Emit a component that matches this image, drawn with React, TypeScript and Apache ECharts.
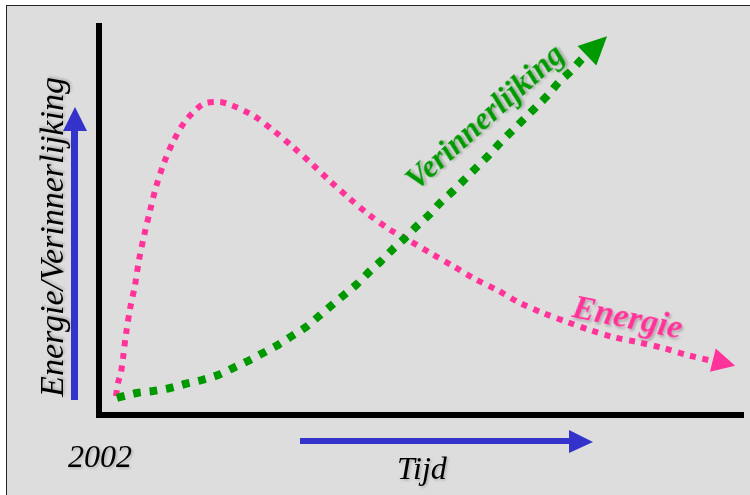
import React, { useEffect, useRef } from "react";
import * as echarts from "echarts";

// Energie curve (x: time 0-100, y: level 0-100)
const energieX = [2.65, 2.96, 3.43, 3.74, 4.21, 4.83, 5.61, 6.23, 7.01, 7.94, 8.88, 10.12, 11.68, 13.71, 16.67, 18.69, 20.56, 24.14, 27.26, 30.22, 33.18, 35.98, 38.94, 41.9, 45.17, 48.44, 51.87, 55.14, 58.57, 61.99, 65.58, 69.16, 72.9, 76.48, 80.06, 83.8, 87.85, 91.59, 95.64];
const energieY = [4.88, 8.23, 11.05, 14.65, 20.82, 27.25, 33.42, 39.85, 46.02, 52.44, 58.61, 64.78, 70.69, 76.09, 80.21, 80.46, 79.69, 76.86, 73.01, 68.89, 64.52, 60.15, 55.78, 51.67, 47.81, 44.73, 41.39, 38.3, 34.96, 32.13, 28.79, 26.22, 23.91, 21.85, 20.05, 18.77, 17.22, 15.42, 13.88];

// Verinnerlijking curve
const verinX = [2.8, 5.92, 8.41, 11.06, 13.4, 16.04, 18.54, 20.87, 23.21, 25.55, 27.88, 30.06, 32.24, 34.27, 36.29, 38.16, 40.19, 42.06, 43.93, 45.79, 47.66, 49.53, 51.4, 53.27, 55.14, 57.01, 58.88, 60.75, 62.46, 64.33, 66.2, 68.07, 69.94, 71.65, 73.52, 75.23, 76.01];
const verinY = [4.37, 5.66, 6.17, 6.94, 7.97, 9.0, 10.28, 12.08, 13.88, 15.94, 17.99, 20.31, 22.62, 25.45, 28.28, 30.85, 33.68, 36.76, 39.59, 42.67, 45.5, 48.59, 51.41, 54.76, 57.58, 60.67, 63.75, 66.84, 69.92, 73.01, 76.09, 79.18, 82.26, 85.6, 88.43, 91.52, 92.54];

// Arrowheads at curve ends
const energieArrow = [97.35, 13.37];
const verinArrow = [77.57, 94.86];

const labelYAxis = "Energie/Verinnerlijking";
const labelX = "Tijd";
const labelStart = "2002";
const labelEnergie = "Energie";
const labelVerin = "Verinnerlijking";

const PINK = "#ff3399";
const GREEN = "#009900";
const BLUE = "#3333cc";
const FONT = "'Liberation Serif', 'Times New Roman', serif";

export default function App() {
  const ref = useRef<HTMLDivElement>(null);
  useEffect(() => {
    if (!ref.current) return;
    const chart = echarts.init(ref.current, undefined, { renderer: "svg" });
    const zip = (xs: number[], ys: number[]) => xs.map((x, i) => [x, ys[i]]);
    const shadow = {
      textShadowColor: "rgba(0,0,0,0.22)",
      textShadowBlur: 2,
      textShadowOffsetX: 2,
      textShadowOffsetY: 2,
    };
    const softShadow = {
      textShadowColor: "rgba(0,0,0,0.2)",
      textShadowBlur: 2,
      textShadowOffsetX: 1.5,
      textShadowOffsetY: 1.5,
    };
    chart.setOption({
      animation: false,
      backgroundColor: "transparent",
      grid: { left: 99, right: 9, top: 26, bottom: 80 },
      xAxis: {
        type: "value",
        min: 0,
        max: 100,
        axisLine: { show: true, lineStyle: { color: "#000", width: 6, cap: "square" } },
        axisTick: { show: false },
        axisLabel: { show: false },
        splitLine: { show: false },
      },
      yAxis: {
        type: "value",
        min: 0,
        max: 100,
        axisLine: { show: true, lineStyle: { color: "#000", width: 6, cap: "square" } },
        axisTick: { show: false },
        axisLabel: { show: false },
        splitLine: { show: false },
      },
      series: [
        {
          type: "line",
          name: labelEnergie,
          data: zip(energieX, energieY),
          smooth: 0.3,
          symbol: "none",
          lineStyle: { color: PINK, width: 6, type: [6, 6.6], cap: "butt" },
          z: 3,
        },
        {
          type: "line",
          name: labelVerin,
          data: zip(verinX, verinY),
          smooth: 0.3,
          symbol: "none",
          lineStyle: { color: GREEN, width: 8, type: [8, 8.6], cap: "butt" },
          z: 4,
        },
        {
          type: "scatter",
          data: [
            { value: energieArrow, symbolSize: [24, 23], symbolRotate: -104, itemStyle: { color: PINK, opacity: 1 } },
            { value: verinArrow, symbolSize: [27, 28], symbolRotate: -46, itemStyle: { color: GREEN, opacity: 1 } },
          ],
          symbol: "triangle",
          itemStyle: { opacity: 1 },
          emphasis: { disabled: true },
          z: 5,
        },
      ],
      graphic: [
        // blue arrows
        { type: "line", shape: { x1: 74.5, y1: 400, x2: 74.5, y2: 130 }, style: { stroke: BLUE, lineWidth: 7 } },
        { type: "polygon", shape: { points: [[63, 131], [87, 131], [75, 107]] }, style: { fill: BLUE } },
        { type: "line", shape: { x1: 300, y1: 441, x2: 570, y2: 441 }, style: { stroke: BLUE, lineWidth: 6 } },
        { type: "polygon", shape: { points: [[569, 430], [569, 453], [593, 442]] }, style: { fill: BLUE } },
        // texts
        {
          type: "text",
          x: 51,
          y: 237,
          rotation: Math.PI / 2,
          style: { text: labelYAxis, fontFamily: FONT, fontSize: 34, fontStyle: "italic", fill: "#000", align: "center", verticalAlign: "middle", ...softShadow },
        },
        {
          type: "text",
          x: 68,
          y: 456,
          style: { text: labelStart, fontFamily: FONT, fontSize: 32, fontStyle: "italic", fill: "#000", align: "left", verticalAlign: "middle", ...softShadow },
        },
        {
          type: "text",
          x: 397,
          y: 468,
          style: { text: labelX, fontFamily: FONT, fontSize: 32, fontStyle: "italic", fill: "#000", align: "left", verticalAlign: "middle", ...softShadow },
        },
        {
          type: "text",
          x: 484,
          y: 116,
          rotation: (42 * Math.PI) / 180,
          style: { text: labelVerin, fontFamily: FONT, fontSize: 32, fontStyle: "italic", fontWeight: "bold", fill: GREEN, align: "center", verticalAlign: "middle", ...shadow },
        },
        {
          type: "text",
          x: 628,
          y: 316,
          rotation: (-11.4 * Math.PI) / 180,
          style: { text: labelEnergie, fontFamily: FONT, fontSize: 34, fontStyle: "italic", fontWeight: "bold", fill: PINK, align: "center", verticalAlign: "middle", ...shadow },
        },
      ],
    });
    return () => chart.dispose();
  }, []);
  return (
    <div style={{ position: "absolute", left: 0, top: 0, width: 750, height: 495, background: "#fff", overflow: "hidden" }}>
      <div
        style={{
          position: "absolute",
          left: 6,
          top: 5,
          width: 760,
          height: 510,
          background: "#dddddd",
          border: "1.5px solid #222",
          boxSizing: "border-box",
        }}
      />
      <div ref={ref} style={{ position: "absolute", left: 0, top: 0, width: 750, height: 495 }} />
    </div>
  );
}
